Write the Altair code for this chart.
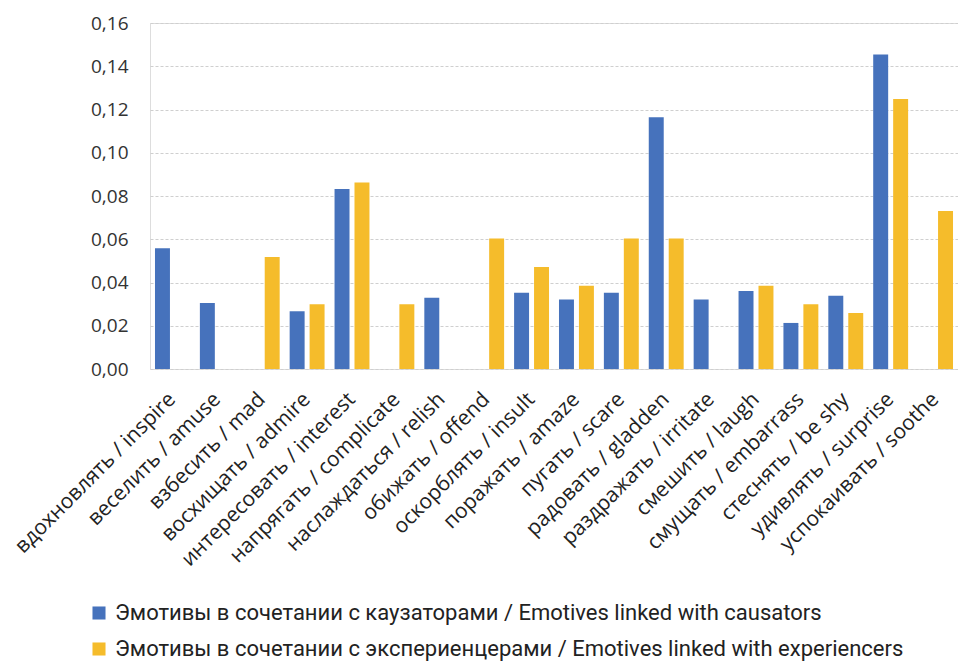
import altair as alt
import pandas as pd

categories = [
    "вдохновлять / inspire", "веселить / amuse", "взбесить / mad",
    "восхищать / admire", "интересовать / interest", "напрягать / complicate",
    "наслаждаться / relish", "обижать / offend", "оскорблять / insult",
    "поражать / amaze", "пугать / scare", "радовать / gladden",
    "раздражать / irritate", "смешить / laugh", "смущать / embarrass",
    "стеснять / be shy", "удивлять / surprise", "успокаивать / soothe",
]
causators = [0.0558, 0.0305, 0.0, 0.0267, 0.0832, 0.0, 0.0330, 0.0, 0.0353,
             0.0321, 0.0353, 0.1164, 0.0321, 0.0361, 0.0213, 0.0339, 0.1454, 0.0]
experiencers = [0.0, 0.0, 0.0518, 0.0299, 0.0863, 0.0299, 0.0, 0.0604, 0.0472,
                0.0385, 0.0604, 0.0604, 0.0, 0.0385, 0.0299, 0.0259, 0.1249, 0.0731]
series_names = [
    "Эмотивы в сочетании с каузаторами / Emotives linked with causators",
    "Эмотивы в сочетании с экспериенцерами / Emotives linked with experiencers",
]
colors = ["#4672BC", "#F5BC2B"]
y_ticks = [0.0, 0.02, 0.04, 0.06, 0.08, 0.10, 0.12, 0.14, 0.16]

rows = []
for c, a, b in zip(categories, causators, experiencers):
    rows.append({"cat": c, "series": series_names[0], "value": a})
    rows.append({"cat": c, "series": series_names[1], "value": b})
df = pd.DataFrame(rows)

font = "Open Sans"

chart = alt.Chart(df).mark_bar().encode(
    x=alt.X("cat:N", sort=categories, title=None,
            scale=alt.Scale(paddingInner=0, paddingOuter=0),
            axis=alt.Axis(labelAngle=-45, labelAlign="right", labelBaseline="middle",
                          labelFontSize=21, labelColor="#222222", labelFont=font,
                          labelPadding=27, ticks=False, domain=False, grid=False,
                          labelOverlap=False, labelLimit=400)),
    xOffset=alt.XOffset("series:N", sort=series_names,
                        scale=alt.Scale(paddingInner=0.25, paddingOuter=0.25)),
    y=alt.Y("value:Q", title=None,
            scale=alt.Scale(domain=[0, 0.16], nice=False),
            axis=alt.Axis(values=y_ticks, labelExpr="replace(format(datum.value, '.2f'), '.', ',')",
                          labelFontSize=19, labelColor="#333333", labelFont=font,
                          labelFontWeight=500,
                          labelPadding=22, ticks=False, domain=False,
                          grid=True, gridColor="#CFCFCF", gridDash=[3, 2], gridWidth=1)),
    color=alt.Color("series:N", sort=series_names, title=None,
                    scale=alt.Scale(domain=series_names, range=colors),
                    legend=alt.Legend(orient="none", legendX=-62, legendY=579,
                                      direction="vertical", symbolType="square",
                                      symbolSize=170, symbolStrokeWidth=0,
                                      labelFontSize=22, labelFont="Roboto",
                                      labelColor="#222222", labelLimit=900,
                                      rowPadding=14, symbolOffset=0, labelOffset=5)),
).properties(
    width=808, height=346,
    autosize=alt.AutoSizeParams(type="none"),
    padding={"left": 142, "top": 15, "right": 0, "bottom": 293},
).configure_view(stroke=None).configure(background="white")

chart.save("out.html", embed_options={"renderer": "svg", "actions": False})
